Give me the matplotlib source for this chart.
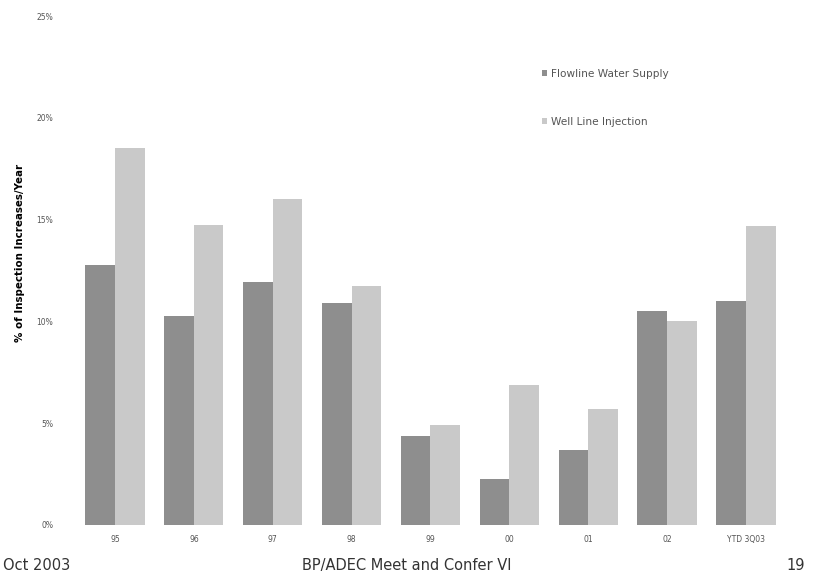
import matplotlib
matplotlib.use("Agg")
import matplotlib.pyplot as plt
import numpy as np
from matplotlib.ticker import FuncFormatter

categories = ["95", "96", "97", "98", "99", "00", "01", "02", "YTD 3Q03"]
flowline_water_supply = [12.75, 10.25, 11.95, 10.9, 4.35, 2.25, 3.7, 10.5, 11.0]
well_line_injection = [18.5, 14.75, 16.0, 11.75, 4.9, 6.9, 5.7, 10.0, 14.7]
yticks = [0, 5, 10, 15, 20, 25]

dark = "#8e8e8e"
light = "#c9c9c9"

fig = plt.figure(figsize=(8.13, 5.83), dpi=100)
ax = fig.add_axes([0.093, 0.0995, 0.873, 0.873])

x = np.arange(len(categories))
w = 0.375
ax.bar(x - w / 2, flowline_water_supply, width=w, color=dark, label="Flowline Water Supply")
ax.bar(x + w / 2, well_line_injection, width=w, color=light, label="Well Line Injection")

ax.set_xlim(-0.5, len(categories) - 0.5)
ax.set_ylim(0, 25)
ax.set_yticks(yticks)
ax.yaxis.set_major_formatter(FuncFormatter(lambda v, p: f"{v:.0f}%"))
ax.set_xticks(x)
ax.set_xticklabels(categories)
ax.tick_params(axis="both", length=0, labelsize=5.5, labelcolor="#555555")
ax.tick_params(axis="x", pad=7)
ax.tick_params(axis="y", pad=16)
for s in ["top", "right", "left", "bottom"]:
    ax.spines[s].set_visible(False)

ax.set_ylabel("% of Inspection Increases/Year", fontsize=7.4, fontweight="bold")
ax.yaxis.set_label_coords(-0.072, 0.534)

leg = ax.legend(loc="upper left", bbox_to_anchor=(0.644, 0.915), frameon=False,
                fontsize=7.6, handlelength=0.45, handleheight=0.45, labelspacing=3.6,
                handletextpad=0.35)
for t in leg.get_texts():
    t.set_color("#555555")

fig.text(0.004, 0.022, "Oct 2003", fontsize=10.5, color="#333333", ha="left", va="baseline")
fig.text(0.50, 0.022, "BP/ADEC Meet and Confer VI", fontsize=10.5, color="#333333", ha="center", va="baseline")
fig.text(0.99, 0.022, "19", fontsize=10.5, color="#333333", ha="right", va="baseline")

fig.savefig("out.png", dpi=100)
